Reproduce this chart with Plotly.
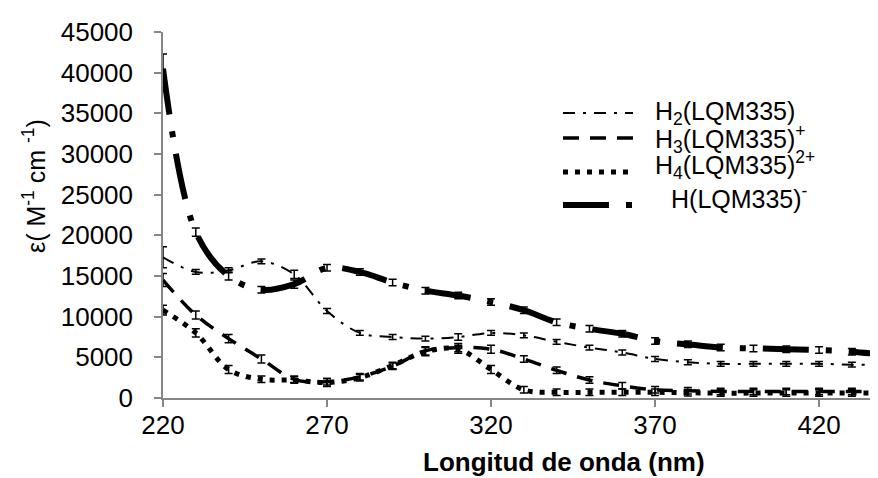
import plotly.graph_objects as go

# ---------------- data ----------------
wavelength = [220, 230, 240, 250, 260, 270, 280, 290, 300, 310, 320, 330,
              340, 350, 360, 370, 380, 390, 400, 410, 420, 430, 440]

h2_lqm = [17300, 15500, 15700, 16800, 15200, 10700, 8000, 7500, 7300, 7500, 8000, 7700,
          6900, 6200, 5600, 4800, 4400, 4200, 4200, 4200, 4200, 4100, 4100]
h2_err = [1300, 300, 300, 300, 500, 300, 300, 300, 300, 400, 300, 300,
          300, 300, 300, 300, 300, 300, 300, 300, 300, 300, 300]

h3_lqm = [14500, 10200, 7300, 4800, 2300, 2000, 2600, 3900, 5800, 6200, 6000, 4800,
          3400, 2200, 1500, 1000, 900, 800, 800, 800, 800, 800, 800]
h3_err = [800, 500, 500, 500, 400, 400, 400, 400, 500, 500, 500, 400,
          400, 400, 400, 400, 400, 400, 400, 400, 400, 400, 400]

h4_lqm = [10800, 8000, 3500, 2300, 2200, 1900, 2500, 4000, 5700, 6000, 3500, 1000,
          700, 700, 700, 700, 650, 600, 600, 600, 600, 600, 600]
h4_err = [600, 500, 500, 400, 400, 500, 400, 400, 500, 500, 500, 400,
          400, 400, 400, 400, 400, 400, 400, 400, 400, 400, 400]

hm_lqm = [40500, 20400, 15000, 13300, 14000, 16000, 15500, 14200, 13200, 12600, 11800, 10800,
          9300, 8500, 7900, 7000, 6600, 6200, 6100, 6000, 5900, 5700, 5300]
hm_err = [1800, 500, 500, 400, 500, 400, 400, 400, 400, 400, 400, 400,
          400, 400, 400, 400, 400, 400, 400, 400, 400, 400, 400]

series_names = ["H<sub>2</sub>(LQM335)", "H<sub>3</sub>(LQM335)<sup>+</sup>",
                "H<sub>4</sub>(LQM335)<sup>2+</sup>", "H(LQM335)<sup>-</sup>"]

x_ticks = [220, 270, 320, 370, 420]
y_ticks = [0, 5000, 10000, 15000, 20000, 25000, 30000, 35000, 40000, 45000]
y_tick_labels = ["0", "5000", "10000", "15000", "20000", "25000", "30000", "35000", "40000", "45000"]

# ---------------- styling ----------------
W, H = 878, 478
ML, MR, MT, MB = 155, 0, 24, 88
PW, PH = W - ML - MR, H - MT - MB
FONT = "Liberation Sans, Arial, sans-serif"

def px(x):
    return (x - ML) / PW

def py(y):
    return (H - MB - y) / PH

styles = [
    dict(width=2, dash="12px,8px,3px,8px"),
    dict(width=3.5, dash="16px,11px"),
    dict(width=5, dash="5px,7px"),
    dict(width=6, dash="46px,17px,6px,17px"),
]
values = [h2_lqm, h3_lqm, h4_lqm, hm_lqm]
errors = [h2_err, h3_err, h4_err, hm_err]

fig = go.Figure()
for name, vals, errs, st in zip(series_names, values, errors, styles):
    fig.add_trace(go.Scatter(
        x=wavelength, y=vals, name=name, mode="lines",
        line=dict(color="black", width=st["width"], dash=st["dash"], shape="spline", smoothing=1),
        error_y=dict(type="data", array=errs, visible=True, color="black", thickness=1.5, width=4),
        showlegend=False,
    ))

# custom legend (line samples + labels)
legend_rows = [
    dict(y=105, ty=105, tx=645, x0=555, x1=625),
    dict(y=130, ty=131, tx=645, x0=555, x1=625),
    dict(y=164, ty=157, tx=645, x0=555, x1=625),
    dict(y=197, ty=189, tx=661, x0=555, x1=625),
]
shapes = []
annotations = []
for name, st, row in zip(series_names, styles, legend_rows):
    shapes.append(dict(type="line", xref="paper", yref="paper",
                       x0=px(row["x0"]), x1=px(row["x1"]), y0=py(row["y"]), y1=py(row["y"]),
                       line=dict(color="black", width=st["width"], dash=st["dash"])))
    annotations.append(dict(text=name, xref="paper", yref="paper", x=px(row["tx"]), y=py(row["ty"]),
                            xanchor="left", yanchor="middle", showarrow=False,
                            font=dict(family=FONT, size=25, color="black")))

annotations.append(dict(text="<b>Longitud de onda (nm)</b>", xref="paper", yref="paper",
                        x=px(556), y=py(454), xanchor="center", yanchor="middle", showarrow=False,
                        font=dict(family=FONT, size=26, color="black")))
annotations.append(dict(text="ε( M<sup>-1</sup> cm <sup>-1</sup>)", xref="paper", yref="paper",
                        x=px(26), y=py(178), xanchor="center", yanchor="middle", textangle=-90,
                        showarrow=False, font=dict(family=FONT, size=25, color="black")))

fig.update_layout(
    width=W, height=H,
    margin=dict(l=ML, r=MR, t=MT, b=MB),
    paper_bgcolor="white", plot_bgcolor="white",
    font=dict(family=FONT, size=26, color="black"),
    shapes=shapes, annotations=annotations,
    xaxis=dict(range=[220, 440.4], tickvals=x_ticks, ticktext=[str(t) for t in x_ticks],
               ticks="outside", ticklen=7, tickwidth=1.5, ticklabelstandoff=-4,
               tickcolor="#868686", showline=True, linecolor="#868686", linewidth=1.5,
               showgrid=False, zeroline=False, tickfont=dict(family=FONT, size=26, color="black")),
    yaxis=dict(range=[0, 45000], tickvals=y_ticks, ticktext=y_tick_labels,
               ticks="outside", ticklen=7, tickwidth=1.5, ticklabelstandoff=16,
               tickcolor="#868686", showline=True, linecolor="#868686", linewidth=1.5,
               showgrid=False, zeroline=False, tickfont=dict(family=FONT, size=26, color="black")),
)

fig.write_html("out.html")
